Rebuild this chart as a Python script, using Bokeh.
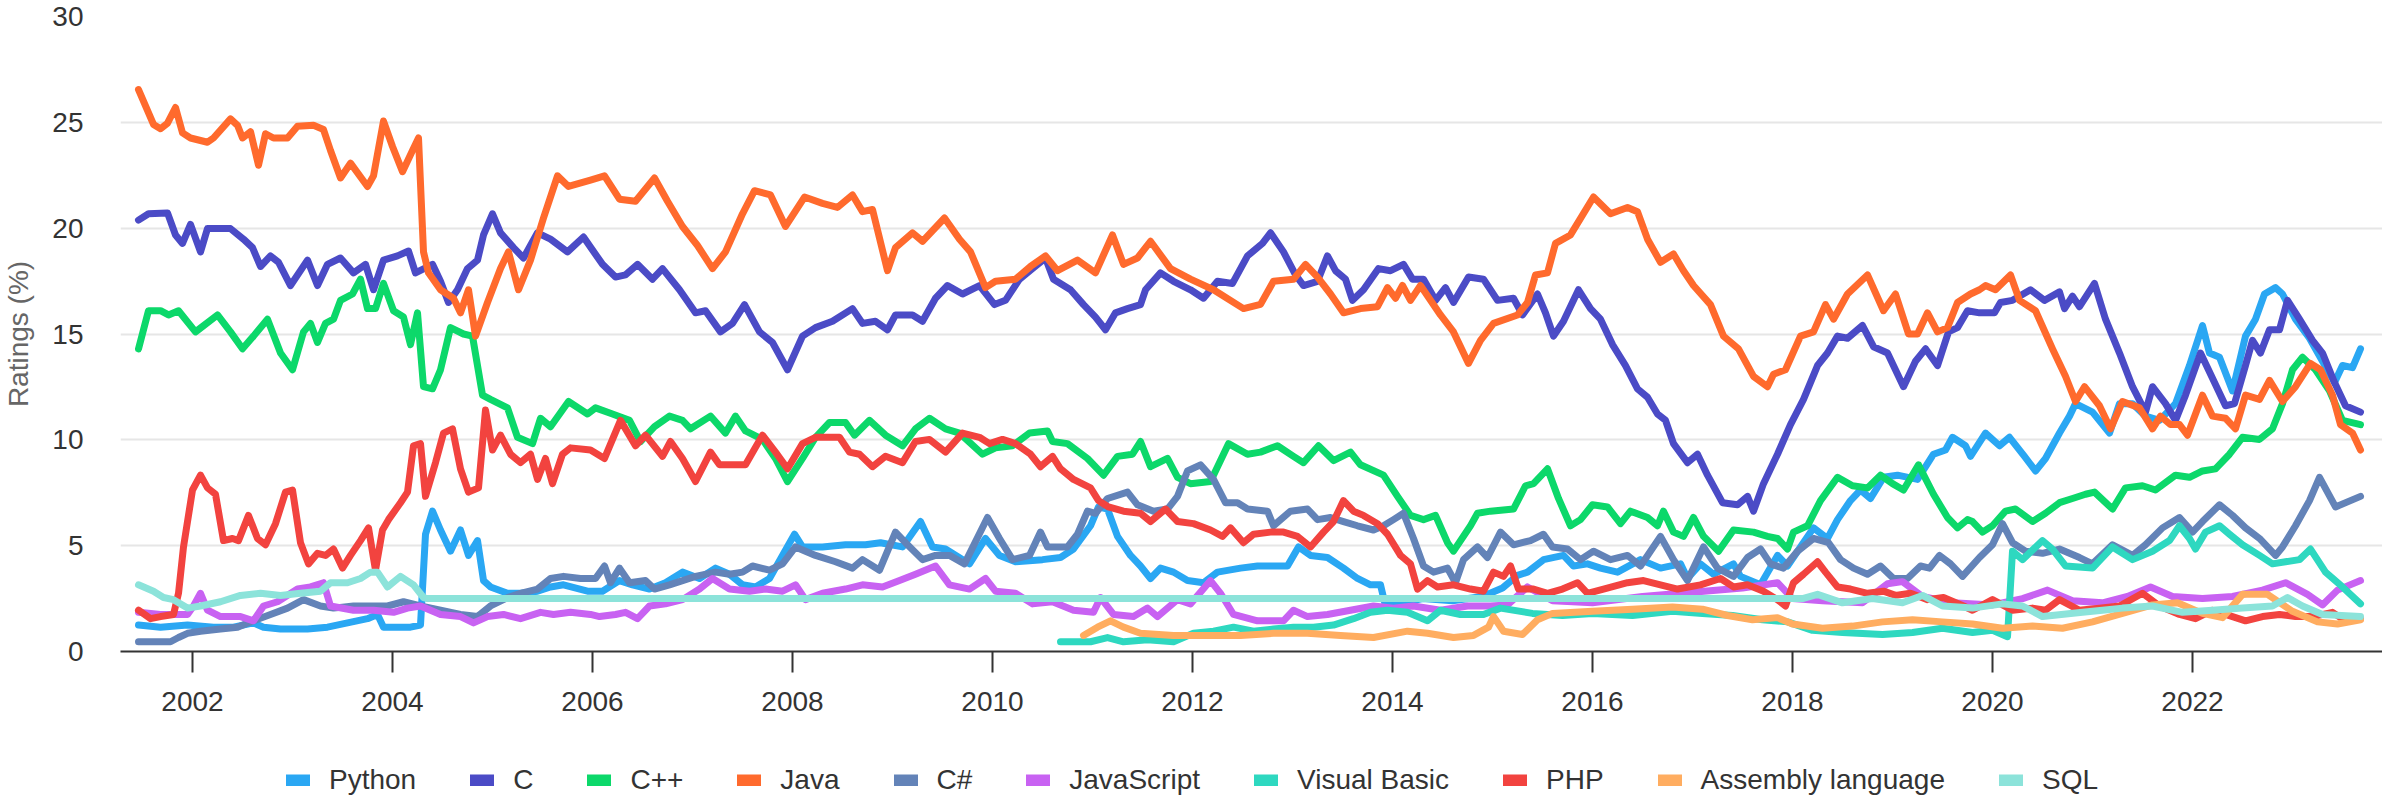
from bokeh.plotting import figure
from bokeh.models import Range1d, FixedTicker, Legend, LegendItem
from bokeh.layouts import column
from bokeh.embed import file_html
from bokeh.resources import INLINE

# ---------------- data (decimal year, rating %) ----------------
X_TICKS = [2002, 2004, 2006, 2008, 2010, 2012, 2014, 2016, 2018, 2020, 2022]
Y_TICKS = [0, 5, 10, 15, 20, 25, 30]

PY_T = [2001.46, 2001.68, 2001.95, 2002.21, 2002.41, 2002.61, 2002.71, 2002.88, 2003.15, 2003.35, 2003.55, 2003.75, 2003.85, 2003.91, 2004.05, 2004.18, 2004.28, 2004.33, 2004.40, 2004.48, 2004.58, 2004.68, 2004.76, 2004.85, 2004.91, 2004.98, 2005.15, 2005.28, 2005.45, 2005.58, 2005.71, 2005.95, 2006.10, 2006.27, 2006.40, 2006.57, 2006.73, 2006.90, 2007.07, 2007.23, 2007.37, 2007.50, 2007.63, 2007.77, 2007.90, 2008.02, 2008.10, 2008.30, 2008.53, 2008.73, 2008.88, 2009.10, 2009.28, 2009.40, 2009.53, 2009.77, 2009.93, 2010.07, 2010.23, 2010.50, 2010.68, 2010.81, 2010.98, 2011.06, 2011.15, 2011.25, 2011.38, 2011.48, 2011.58, 2011.68, 2011.81, 2011.95, 2012.11, 2012.25, 2012.48, 2012.65, 2012.81, 2012.95, 2013.06, 2013.18, 2013.35, 2013.51, 2013.65, 2013.78, 2013.88, 2013.93, 2014.10, 2014.30, 2014.60, 2014.90, 2015.10, 2015.25, 2015.35, 2015.51, 2015.71, 2015.81, 2015.95, 2016.08, 2016.25, 2016.48, 2016.68, 2016.88, 2016.95, 2017.08, 2017.21, 2017.41, 2017.48, 2017.68, 2017.85, 2017.95, 2018.08, 2018.21, 2018.35, 2018.45, 2018.58, 2018.68, 2018.78, 2018.91, 2019.05, 2019.25, 2019.41, 2019.53, 2019.60, 2019.73, 2019.78, 2019.93, 2020.07, 2020.17, 2020.32, 2020.43, 2020.53, 2020.67, 2020.77, 2020.83, 2021.00, 2021.17, 2021.27, 2021.40, 2021.53, 2021.67, 2021.83, 2021.97, 2022.10, 2022.17, 2022.27, 2022.40, 2022.53, 2022.63, 2022.72, 2022.83, 2022.90, 2023.03, 2023.17, 2023.30, 2023.42, 2023.50, 2023.60, 2023.68]
PY_V = [1.25, 1.15, 1.25, 1.15, 1.15, 1.35, 1.15, 1.06, 1.06, 1.15, 1.35, 1.55, 1.75, 1.15, 1.15, 1.15, 1.25, 5.54, 6.63, 5.74, 4.74, 5.74, 4.54, 5.24, 3.35, 3.05, 2.75, 2.75, 2.85, 3.05, 3.15, 2.85, 2.85, 3.35, 3.15, 2.95, 3.25, 3.75, 3.45, 3.94, 3.65, 3.15, 3.05, 3.45, 4.54, 5.54, 4.94, 4.94, 5.04, 5.04, 5.14, 4.94, 6.14, 4.94, 4.84, 4.14, 5.34, 4.54, 4.24, 4.34, 4.44, 4.84, 5.94, 6.83, 6.73, 5.44, 4.54, 4.04, 3.45, 3.94, 3.75, 3.35, 3.25, 3.75, 3.94, 4.04, 4.04, 4.04, 4.94, 4.54, 4.44, 3.94, 3.45, 3.15, 3.15, 2.15, 2.30, 2.50, 2.40, 2.60, 3.00, 3.60, 3.75, 4.34, 4.54, 4.04, 4.14, 3.94, 3.75, 4.34, 3.94, 4.14, 3.45, 4.14, 3.65, 4.14, 3.55, 3.15, 4.54, 4.04, 4.94, 5.84, 5.34, 6.23, 7.13, 7.63, 7.23, 8.23, 8.33, 8.13, 9.32, 9.52, 10.12, 9.72, 9.22, 10.32, 9.72, 10.12, 9.22, 8.53, 9.12, 10.32, 11.12, 11.71, 11.31, 10.32, 11.71, 11.71, 11.12, 10.92, 11.71, 13.51, 15.40, 14.10, 13.90, 12.31, 14.90, 15.70, 16.89, 17.19, 16.89, 15.70, 14.80, 13.71, 12.71, 13.51, 13.41, 14.30]

C_T = [2001.46, 2001.56, 2001.75, 2001.83, 2001.90, 2001.98, 2002.08, 2002.15, 2002.38, 2002.51, 2002.60, 2002.68, 2002.78, 2002.86, 2002.98, 2003.15, 2003.25, 2003.35, 2003.48, 2003.61, 2003.73, 2003.81, 2003.91, 2004.05, 2004.16, 2004.23, 2004.40, 2004.48, 2004.56, 2004.65, 2004.75, 2004.85, 2004.91, 2005.00, 2005.08, 2005.21, 2005.31, 2005.45, 2005.58, 2005.75, 2005.91, 2006.10, 2006.23, 2006.33, 2006.45, 2006.60, 2006.70, 2006.87, 2007.03, 2007.13, 2007.28, 2007.40, 2007.52, 2007.67, 2007.80, 2007.95, 2008.10, 2008.23, 2008.40, 2008.60, 2008.70, 2008.83, 2008.95, 2009.03, 2009.20, 2009.30, 2009.43, 2009.55, 2009.70, 2009.87, 2010.02, 2010.13, 2010.27, 2010.40, 2010.53, 2010.61, 2010.78, 2010.91, 2011.03, 2011.13, 2011.23, 2011.35, 2011.48, 2011.53, 2011.68, 2011.81, 2011.98, 2012.11, 2012.25, 2012.40, 2012.55, 2012.70, 2012.78, 2012.91, 2013.03, 2013.11, 2013.25, 2013.35, 2013.43, 2013.53, 2013.60, 2013.71, 2013.86, 2013.98, 2014.11, 2014.20, 2014.31, 2014.43, 2014.53, 2014.61, 2014.76, 2014.91, 2015.05, 2015.21, 2015.30, 2015.45, 2015.53, 2015.61, 2015.71, 2015.86, 2015.98, 2016.08, 2016.20, 2016.33, 2016.45, 2016.55, 2016.65, 2016.73, 2016.81, 2016.95, 2017.05, 2017.15, 2017.30, 2017.45, 2017.55, 2017.61, 2017.71, 2017.85, 2017.98, 2018.11, 2018.25, 2018.35, 2018.45, 2018.55, 2018.70, 2018.81, 2018.95, 2019.11, 2019.23, 2019.33, 2019.45, 2019.56, 2019.65, 2019.75, 2019.87, 2020.02, 2020.08, 2020.20, 2020.38, 2020.52, 2020.67, 2020.72, 2020.80, 2020.87, 2021.02, 2021.13, 2021.27, 2021.40, 2021.53, 2021.60, 2021.73, 2021.83, 2021.93, 2022.08, 2022.20, 2022.33, 2022.42, 2022.53, 2022.60, 2022.68, 2022.77, 2022.87, 2022.95, 2023.07, 2023.20, 2023.30, 2023.42, 2023.53, 2023.68]
C_V = [20.38, 20.68, 20.72, 19.68, 19.28, 20.18, 18.88, 19.98, 19.98, 19.48, 19.08, 18.19, 18.69, 18.39, 17.29, 18.49, 17.29, 18.29, 18.59, 17.89, 18.29, 17.09, 18.49, 18.69, 18.92, 17.89, 18.29, 17.49, 16.49, 17.09, 18.09, 18.49, 19.68, 20.68, 19.78, 19.08, 18.59, 19.78, 19.48, 18.88, 19.58, 18.29, 17.69, 17.79, 18.29, 17.59, 18.09, 17.09, 16.00, 16.10, 15.10, 15.50, 16.39, 15.10, 14.60, 13.31, 14.90, 15.30, 15.60, 16.20, 15.50, 15.60, 15.20, 15.90, 15.90, 15.60, 16.69, 17.29, 16.89, 17.29, 16.39, 16.59, 17.59, 18.09, 18.59, 17.59, 17.09, 16.39, 15.80, 15.20, 16.00, 16.20, 16.39, 17.09, 17.89, 17.49, 17.09, 16.69, 17.49, 17.39, 18.69, 19.28, 19.78, 18.88, 17.79, 17.29, 17.49, 18.69, 17.99, 17.59, 16.59, 17.09, 18.09, 17.99, 18.29, 17.59, 17.59, 16.59, 17.19, 16.49, 17.69, 17.59, 16.59, 16.69, 15.90, 16.89, 16.00, 14.90, 15.60, 17.09, 16.20, 15.70, 14.50, 13.51, 12.41, 12.01, 11.22, 10.92, 9.82, 8.92, 9.32, 8.33, 7.03, 6.93, 7.33, 6.63, 7.93, 9.32, 10.72, 11.91, 13.51, 14.10, 14.90, 14.80, 15.40, 14.40, 14.10, 12.51, 13.71, 14.30, 13.51, 15.10, 15.30, 16.10, 16.00, 16.00, 16.49, 16.59, 17.09, 16.59, 16.99, 16.20, 16.79, 16.29, 17.39, 15.70, 14.10, 12.51, 11.31, 12.51, 11.71, 10.92, 12.11, 14.10, 12.91, 11.61, 11.71, 13.51, 14.70, 14.10, 15.20, 15.20, 16.59, 15.70, 14.70, 14.10, 12.71, 11.61, 11.31]

CPP_T = [2001.46, 2001.56, 2001.68, 2001.76, 2001.86, 2002.03, 2002.25, 2002.38, 2002.50, 2002.61, 2002.75, 2002.88, 2003.00, 2003.11, 2003.18, 2003.25, 2003.33, 2003.41, 2003.48, 2003.60, 2003.68, 2003.75, 2003.83, 2003.91, 2004.01, 2004.11, 2004.18, 2004.25, 2004.31, 2004.40, 2004.48, 2004.58, 2004.71, 2004.80, 2004.90, 2004.98, 2005.15, 2005.25, 2005.40, 2005.48, 2005.58, 2005.76, 2005.95, 2006.03, 2006.20, 2006.37, 2006.48, 2006.62, 2006.77, 2006.90, 2006.98, 2007.18, 2007.33, 2007.43, 2007.53, 2007.70, 2007.83, 2007.95, 2008.10, 2008.23, 2008.37, 2008.53, 2008.62, 2008.77, 2008.93, 2009.10, 2009.23, 2009.37, 2009.53, 2009.67, 2009.90, 2010.03, 2010.20, 2010.37, 2010.55, 2010.60, 2010.75, 2010.95, 2011.11, 2011.25, 2011.40, 2011.48, 2011.58, 2011.75, 2011.85, 2011.98, 2012.18, 2012.36, 2012.55, 2012.68, 2012.85, 2013.01, 2013.11, 2013.26, 2013.41, 2013.58, 2013.68, 2013.91, 2014.05, 2014.18, 2014.31, 2014.43, 2014.55, 2014.61, 2014.78, 2014.85, 2014.98, 2015.21, 2015.33, 2015.41, 2015.55, 2015.66, 2015.78, 2015.88, 2016.00, 2016.15, 2016.28, 2016.38, 2016.55, 2016.65, 2016.71, 2016.81, 2016.91, 2017.01, 2017.11, 2017.26, 2017.41, 2017.61, 2017.75, 2017.85, 2017.95, 2018.01, 2018.15, 2018.28, 2018.45, 2018.60, 2018.75, 2018.88, 2019.00, 2019.11, 2019.26, 2019.41, 2019.55, 2019.65, 2019.75, 2019.80, 2019.90, 2020.00, 2020.13, 2020.23, 2020.40, 2020.53, 2020.67, 2020.80, 2020.93, 2021.02, 2021.20, 2021.33, 2021.50, 2021.63, 2021.83, 2021.97, 2022.10, 2022.23, 2022.37, 2022.50, 2022.67, 2022.80, 2022.90, 2023.00, 2023.10, 2023.23, 2023.37, 2023.50, 2023.68]
CPP_V = [14.30, 16.10, 16.10, 15.90, 16.10, 15.10, 15.90, 15.10, 14.30, 14.90, 15.70, 14.10, 13.31, 15.10, 15.50, 14.60, 15.50, 15.70, 16.59, 16.89, 17.59, 16.20, 16.20, 17.39, 16.10, 15.80, 14.50, 16.00, 12.51, 12.41, 13.31, 15.30, 15.00, 14.90, 12.11, 11.91, 11.51, 10.12, 9.82, 11.02, 10.62, 11.81, 11.22, 11.51, 11.22, 10.92, 9.92, 10.62, 11.12, 10.92, 10.52, 11.12, 10.32, 11.12, 10.42, 10.02, 9.12, 8.03, 9.12, 10.12, 10.82, 10.82, 10.22, 10.92, 10.22, 9.72, 10.52, 11.02, 10.52, 10.32, 9.32, 9.62, 9.72, 10.32, 10.42, 9.92, 9.82, 9.12, 8.33, 9.22, 9.32, 9.92, 8.73, 9.12, 8.23, 7.93, 8.03, 9.82, 9.32, 9.42, 9.72, 9.22, 8.92, 9.72, 9.02, 9.42, 8.82, 8.33, 7.33, 6.43, 6.23, 6.43, 5.14, 4.74, 5.94, 6.53, 6.63, 6.73, 7.83, 7.93, 8.63, 7.23, 5.94, 6.23, 6.93, 6.83, 6.04, 6.63, 6.33, 5.94, 6.63, 5.64, 5.44, 6.33, 5.44, 4.74, 5.74, 5.64, 5.44, 5.34, 4.84, 5.64, 5.94, 7.13, 8.23, 7.83, 7.73, 8.33, 7.93, 7.63, 8.82, 7.43, 6.33, 5.84, 6.23, 6.14, 5.64, 5.94, 6.63, 6.73, 6.14, 6.53, 7.03, 7.23, 7.43, 7.53, 6.73, 7.73, 7.83, 7.63, 8.33, 8.23, 8.53, 8.63, 9.32, 10.12, 10.02, 10.52, 11.71, 13.31, 13.90, 13.31, 12.31, 10.92, 10.72]

JAVA_T = [2001.46, 2001.61, 2001.68, 2001.75, 2001.83, 2001.90, 2001.98, 2002.15, 2002.21, 2002.38, 2002.45, 2002.50, 2002.58, 2002.66, 2002.73, 2002.81, 2002.95, 2003.05, 2003.21, 2003.31, 2003.38, 2003.48, 2003.58, 2003.75, 2003.81, 2003.91, 2004.00, 2004.10, 2004.20, 2004.26, 2004.31, 2004.36, 2004.48, 2004.61, 2004.68, 2004.76, 2004.83, 2004.95, 2005.08, 2005.16, 2005.26, 2005.38, 2005.51, 2005.65, 2005.76, 2005.98, 2006.12, 2006.27, 2006.43, 2006.62, 2006.75, 2006.90, 2007.05, 2007.20, 2007.33, 2007.50, 2007.62, 2007.78, 2007.93, 2008.12, 2008.30, 2008.45, 2008.60, 2008.70, 2008.80, 2008.95, 2009.03, 2009.20, 2009.30, 2009.52, 2009.67, 2009.78, 2009.93, 2010.03, 2010.23, 2010.38, 2010.53, 2010.65, 2010.85, 2011.03, 2011.20, 2011.31, 2011.45, 2011.58, 2011.78, 2011.98, 2012.21, 2012.51, 2012.68, 2012.81, 2013.01, 2013.13, 2013.25, 2013.38, 2013.51, 2013.68, 2013.85, 2013.95, 2014.03, 2014.10, 2014.18, 2014.28, 2014.48, 2014.61, 2014.76, 2014.88, 2015.01, 2015.25, 2015.35, 2015.43, 2015.55, 2015.63, 2015.78, 2016.01, 2016.18, 2016.35, 2016.45, 2016.55, 2016.68, 2016.81, 2016.91, 2017.01, 2017.18, 2017.31, 2017.46, 2017.61, 2017.75, 2017.81, 2017.93, 2018.08, 2018.21, 2018.33, 2018.41, 2018.55, 2018.75, 2018.91, 2019.03, 2019.16, 2019.25, 2019.35, 2019.45, 2019.55, 2019.65, 2019.78, 2019.87, 2019.93, 2020.03, 2020.18, 2020.27, 2020.43, 2020.60, 2020.73, 2020.83, 2020.92, 2021.07, 2021.18, 2021.30, 2021.47, 2021.60, 2021.68, 2021.78, 2021.87, 2021.95, 2022.10, 2022.20, 2022.33, 2022.43, 2022.53, 2022.67, 2022.77, 2022.90, 2023.03, 2023.18, 2023.28, 2023.40, 2023.48, 2023.60, 2023.68]
JAVA_V = [26.55, 24.90, 24.70, 24.96, 25.70, 24.50, 24.26, 24.06, 24.26, 25.16, 24.86, 24.26, 24.56, 22.97, 24.46, 24.26, 24.26, 24.82, 24.86, 24.66, 23.67, 22.37, 23.07, 21.97, 22.47, 25.06, 23.86, 22.67, 23.67, 24.26, 18.88, 17.89, 17.09, 16.69, 16.00, 17.09, 14.90, 16.49, 18.09, 18.88, 17.09, 18.49, 20.48, 22.47, 21.97, 22.27, 22.47, 21.37, 21.27, 22.37, 21.27, 20.08, 19.18, 18.09, 18.88, 20.68, 21.77, 21.57, 20.08, 21.47, 21.17, 20.98, 21.57, 20.78, 20.88, 17.99, 19.08, 19.78, 19.38, 20.48, 19.48, 18.88, 17.19, 17.49, 17.59, 18.19, 18.69, 17.99, 18.49, 17.89, 19.68, 18.29, 18.59, 19.38, 18.09, 17.59, 17.09, 16.20, 16.40, 17.49, 17.59, 18.29, 17.69, 16.89, 16.00, 16.20, 16.29, 17.19, 16.69, 17.29, 16.59, 17.29, 15.90, 15.10, 13.61, 14.70, 15.50, 15.90, 16.49, 17.79, 17.89, 19.28, 19.68, 21.47, 20.68, 20.98, 20.78, 19.48, 18.39, 18.78, 17.99, 17.29, 16.39, 14.90, 14.30, 13.00, 12.51, 13.10, 13.31, 14.90, 15.10, 16.39, 15.70, 16.89, 17.79, 16.10, 16.89, 15.00, 15.00, 16.00, 15.10, 15.30, 16.49, 16.89, 17.09, 17.29, 17.09, 17.79, 16.59, 16.10, 14.30, 13.00, 11.81, 12.51, 11.61, 10.52, 11.81, 11.51, 10.52, 11.12, 10.72, 10.72, 10.22, 12.11, 11.12, 11.02, 10.52, 12.11, 11.91, 12.81, 11.81, 12.51, 13.61, 13.31, 12.11, 10.72, 10.32, 9.52]

CS_T = [2001.46, 2001.78, 2001.86, 2001.95, 2002.08, 2002.28, 2002.45, 2002.61, 2002.78, 2002.95, 2003.11, 2003.28, 2003.41, 2003.61, 2003.81, 2003.95, 2004.11, 2004.28, 2004.48, 2004.68, 2004.85, 2004.98, 2005.15, 2005.28, 2005.45, 2005.58, 2005.71, 2005.88, 2006.03, 2006.12, 2006.18, 2006.27, 2006.37, 2006.53, 2006.62, 2006.77, 2006.90, 2007.03, 2007.23, 2007.37, 2007.50, 2007.60, 2007.77, 2007.90, 2008.03, 2008.23, 2008.43, 2008.60, 2008.70, 2008.87, 2009.03, 2009.13, 2009.30, 2009.43, 2009.57, 2009.72, 2009.95, 2010.07, 2010.20, 2010.37, 2010.48, 2010.55, 2010.75, 2010.85, 2010.95, 2011.03, 2011.15, 2011.35, 2011.45, 2011.61, 2011.75, 2011.85, 2011.95, 2012.08, 2012.21, 2012.33, 2012.45, 2012.55, 2012.75, 2012.81, 2012.98, 2013.15, 2013.25, 2013.38, 2013.51, 2013.65, 2013.81, 2013.91, 2014.01, 2014.11, 2014.21, 2014.31, 2014.41, 2014.55, 2014.63, 2014.71, 2014.85, 2014.95, 2015.08, 2015.21, 2015.38, 2015.51, 2015.60, 2015.75, 2015.88, 2016.01, 2016.18, 2016.35, 2016.48, 2016.68, 2016.81, 2016.95, 2017.11, 2017.25, 2017.41, 2017.55, 2017.68, 2017.78, 2017.91, 2018.05, 2018.21, 2018.36, 2018.48, 2018.61, 2018.75, 2018.88, 2019.01, 2019.15, 2019.28, 2019.37, 2019.47, 2019.58, 2019.70, 2019.87, 2020.00, 2020.10, 2020.20, 2020.33, 2020.50, 2020.67, 2020.87, 2021.00, 2021.20, 2021.40, 2021.53, 2021.70, 2021.87, 2022.00, 2022.10, 2022.27, 2022.40, 2022.53, 2022.67, 2022.83, 2022.90, 2023.03, 2023.17, 2023.27, 2023.43, 2023.68]
CS_V = [0.46, 0.46, 0.66, 0.86, 0.96, 1.06, 1.15, 1.45, 1.75, 2.05, 2.45, 2.15, 2.05, 2.15, 2.15, 2.15, 2.35, 2.15, 1.95, 1.75, 1.65, 2.15, 2.55, 2.75, 2.95, 3.45, 3.55, 3.45, 3.45, 4.04, 3.25, 3.94, 3.25, 3.35, 2.95, 3.15, 3.35, 3.55, 3.75, 3.65, 3.75, 4.04, 3.84, 4.14, 4.94, 4.54, 4.24, 3.94, 4.34, 3.84, 5.64, 5.14, 4.34, 4.54, 4.54, 4.14, 6.33, 5.34, 4.34, 4.54, 5.64, 4.94, 4.94, 5.54, 6.63, 6.53, 7.23, 7.53, 6.93, 6.63, 6.73, 7.33, 8.53, 8.82, 8.13, 7.03, 7.03, 6.73, 6.63, 5.94, 6.63, 6.73, 6.23, 6.33, 6.14, 5.94, 5.74, 5.94, 6.23, 6.53, 5.34, 4.04, 3.75, 3.94, 3.25, 4.34, 4.94, 4.44, 5.64, 5.04, 5.24, 5.54, 4.94, 4.84, 4.34, 4.74, 4.34, 4.54, 4.04, 5.44, 4.34, 3.35, 4.94, 3.94, 3.55, 4.44, 4.84, 4.14, 3.94, 4.74, 5.34, 5.14, 4.34, 3.94, 3.65, 4.04, 3.45, 3.45, 4.04, 3.94, 4.54, 4.14, 3.55, 4.44, 5.04, 6.04, 5.14, 4.74, 4.64, 4.84, 4.44, 4.14, 5.04, 4.54, 5.04, 5.84, 6.33, 5.64, 6.14, 6.93, 6.43, 5.84, 5.34, 4.54, 4.94, 5.94, 7.13, 8.23, 6.83, 7.33]

JS_T = [2001.46, 2001.68, 2001.95, 2002.01, 2002.08, 2002.15, 2002.28, 2002.48, 2002.61, 2002.71, 2002.85, 2003.05, 2003.18, 2003.31, 2003.38, 2003.61, 2003.81, 2004.01, 2004.15, 2004.28, 2004.48, 2004.68, 2004.81, 2004.95, 2005.11, 2005.28, 2005.48, 2005.61, 2005.78, 2005.98, 2006.07, 2006.23, 2006.33, 2006.45, 2006.57, 2006.73, 2006.90, 2007.07, 2007.20, 2007.37, 2007.57, 2007.73, 2007.90, 2008.03, 2008.13, 2008.30, 2008.53, 2008.70, 2008.90, 2009.07, 2009.23, 2009.43, 2009.57, 2009.77, 2009.93, 2010.03, 2010.23, 2010.40, 2010.60, 2010.81, 2011.01, 2011.08, 2011.21, 2011.41, 2011.55, 2011.65, 2011.85, 2011.98, 2012.18, 2012.28, 2012.41, 2012.65, 2012.91, 2013.01, 2013.15, 2013.35, 2013.58, 2013.81, 2014.01, 2014.21, 2014.48, 2014.75, 2014.98, 2015.15, 2015.35, 2015.60, 2016.00, 2016.50, 2017.00, 2017.50, 2017.85, 2018.00, 2018.30, 2018.70, 2018.95, 2019.10, 2019.30, 2019.60, 2020.00, 2020.30, 2020.55, 2020.80, 2021.10, 2021.35, 2021.58, 2021.80, 2022.10, 2022.40, 2022.70, 2022.93, 2023.15, 2023.30, 2023.45, 2023.68]
JS_V = [1.85, 1.75, 1.75, 2.15, 2.75, 1.95, 1.65, 1.65, 1.45, 2.15, 2.35, 2.95, 3.05, 3.25, 2.15, 1.95, 1.95, 1.85, 2.05, 2.15, 1.75, 1.65, 1.35, 1.65, 1.75, 1.55, 1.85, 1.75, 1.85, 1.75, 1.65, 1.75, 1.85, 1.55, 2.15, 2.25, 2.45, 2.95, 3.45, 2.95, 2.85, 2.95, 2.85, 3.15, 2.45, 2.75, 2.95, 3.15, 3.05, 3.35, 3.65, 4.04, 3.15, 2.95, 3.45, 2.85, 2.75, 2.25, 2.35, 1.95, 1.85, 2.55, 1.75, 1.65, 2.05, 1.65, 2.45, 2.25, 3.35, 2.75, 1.75, 1.45, 1.45, 1.95, 1.65, 1.75, 1.95, 2.15, 2.05, 2.15, 1.95, 2.15, 2.15, 2.20, 3.05, 2.40, 2.30, 2.60, 2.80, 3.00, 3.25, 2.50, 2.40, 2.30, 3.20, 3.30, 2.60, 2.30, 2.20, 2.50, 2.90, 2.40, 2.30, 2.60, 3.05, 2.60, 2.50, 2.60, 2.90, 3.25, 2.70, 2.20, 2.90, 3.35]

VB_T = [2010.68, 2010.98, 2011.15, 2011.31, 2011.55, 2011.81, 2012.01, 2012.21, 2012.41, 2012.61, 2012.81, 2013.01, 2013.21, 2013.41, 2013.61, 2013.78, 2013.95, 2014.15, 2014.35, 2014.48, 2014.68, 2014.91, 2015.08, 2015.40, 2015.70, 2016.00, 2016.40, 2016.80, 2017.10, 2017.40, 2017.70, 2017.95, 2018.20, 2018.50, 2018.90, 2019.20, 2019.50, 2019.80, 2020.00, 2020.15, 2020.20, 2020.30, 2020.50, 2020.60, 2020.73, 2021.00, 2021.20, 2021.40, 2021.60, 2021.77, 2021.87, 2021.97, 2022.03, 2022.13, 2022.27, 2022.37, 2022.50, 2022.67, 2022.80, 2022.93, 2023.07, 2023.18, 2023.33, 2023.50, 2023.68]
VB_V = [0.46, 0.46, 0.66, 0.46, 0.56, 0.46, 0.86, 0.96, 1.15, 0.96, 1.06, 1.15, 1.15, 1.25, 1.55, 1.85, 1.95, 1.85, 1.45, 1.95, 1.75, 1.75, 2.05, 1.80, 1.70, 1.80, 1.70, 1.90, 1.80, 1.70, 1.50, 1.40, 1.00, 0.90, 0.80, 0.90, 1.10, 0.90, 1.00, 0.70, 4.74, 4.34, 5.24, 4.84, 4.04, 3.94, 4.94, 4.34, 4.74, 5.24, 5.94, 5.34, 4.84, 5.64, 5.94, 5.54, 5.04, 4.54, 4.14, 4.24, 4.34, 4.84, 3.75, 3.05, 2.25]

PHP_T = [2001.46, 2001.58, 2001.68, 2001.81, 2001.86, 2001.91, 2002.00, 2002.08, 2002.15, 2002.23, 2002.31, 2002.40, 2002.46, 2002.56, 2002.65, 2002.73, 2002.83, 2002.93, 2003.00, 2003.08, 2003.16, 2003.25, 2003.33, 2003.41, 2003.50, 2003.58, 2003.68, 2003.76, 2003.83, 2003.90, 2003.96, 2004.08, 2004.15, 2004.21, 2004.28, 2004.33, 2004.43, 2004.51, 2004.60, 2004.68, 2004.76, 2004.86, 2004.93, 2005.00, 2005.08, 2005.18, 2005.28, 2005.38, 2005.45, 2005.53, 2005.60, 2005.70, 2005.78, 2005.98, 2006.12, 2006.28, 2006.43, 2006.53, 2006.70, 2006.78, 2006.90, 2007.03, 2007.18, 2007.27, 2007.40, 2007.53, 2007.70, 2007.83, 2007.95, 2008.10, 2008.23, 2008.47, 2008.57, 2008.67, 2008.80, 2008.93, 2009.10, 2009.23, 2009.37, 2009.53, 2009.70, 2009.87, 2009.97, 2010.10, 2010.23, 2010.38, 2010.48, 2010.60, 2010.68, 2010.81, 2010.98, 2011.06, 2011.16, 2011.31, 2011.48, 2011.58, 2011.73, 2011.85, 2012.01, 2012.18, 2012.30, 2012.38, 2012.51, 2012.61, 2012.78, 2012.91, 2013.05, 2013.18, 2013.31, 2013.41, 2013.51, 2013.61, 2013.71, 2013.85, 2013.95, 2014.08, 2014.18, 2014.25, 2014.35, 2014.45, 2014.61, 2014.78, 2014.91, 2015.01, 2015.11, 2015.18, 2015.26, 2015.41, 2015.55, 2015.70, 2015.85, 2015.95, 2016.11, 2016.35, 2016.51, 2016.68, 2016.85, 2017.08, 2017.28, 2017.41, 2017.55, 2017.71, 2017.85, 2017.93, 2018.01, 2018.11, 2018.25, 2018.33, 2018.45, 2018.58, 2018.75, 2018.91, 2019.03, 2019.18, 2019.35, 2019.51, 2019.71, 2019.80, 2020.00, 2020.20, 2020.40, 2020.53, 2020.67, 2020.87, 2021.07, 2021.27, 2021.50, 2021.67, 2021.87, 2022.03, 2022.20, 2022.40, 2022.53, 2022.70, 2022.87, 2023.03, 2023.20, 2023.40, 2023.53, 2023.68]
PHP_V = [1.95, 1.55, 1.65, 1.75, 2.75, 4.94, 7.63, 8.33, 7.73, 7.43, 5.24, 5.34, 5.24, 6.43, 5.34, 5.04, 6.04, 7.53, 7.63, 5.14, 4.14, 4.64, 4.54, 4.84, 3.94, 4.54, 5.24, 5.84, 3.84, 5.74, 6.23, 7.03, 7.53, 9.72, 9.82, 7.33, 8.92, 10.32, 10.52, 8.63, 7.53, 7.73, 11.41, 9.52, 10.22, 9.32, 8.92, 9.32, 8.13, 9.12, 7.93, 9.32, 9.62, 9.52, 9.12, 10.92, 9.72, 10.22, 9.22, 9.92, 9.12, 8.03, 9.42, 8.82, 8.82, 8.82, 10.22, 9.42, 8.63, 9.82, 10.12, 10.12, 9.42, 9.32, 8.73, 9.22, 8.92, 9.92, 10.02, 9.42, 10.32, 10.12, 9.82, 10.02, 9.82, 9.32, 8.73, 9.22, 8.63, 8.13, 7.73, 7.13, 6.83, 6.63, 6.53, 6.14, 6.73, 6.14, 6.04, 5.74, 5.44, 5.84, 5.14, 5.54, 5.64, 5.64, 5.44, 4.94, 5.64, 6.14, 7.13, 6.63, 6.43, 6.04, 5.54, 4.54, 4.14, 2.95, 3.35, 3.05, 3.15, 2.95, 2.85, 3.75, 3.55, 4.04, 2.95, 2.95, 2.75, 2.95, 3.25, 2.75, 2.95, 3.25, 3.35, 3.15, 2.95, 3.15, 3.45, 3.05, 3.15, 2.85, 2.45, 2.15, 3.25, 3.65, 4.24, 3.75, 3.05, 2.95, 2.75, 2.85, 2.65, 2.75, 2.45, 2.55, 2.15, 1.95, 2.45, 1.95, 2.05, 1.95, 2.45, 1.95, 2.05, 2.15, 2.75, 2.15, 1.75, 1.55, 1.95, 1.65, 1.45, 1.65, 1.75, 1.65, 1.65, 1.85, 1.45, 1.55]

ASM_T = [2010.91, 2011.05, 2011.18, 2011.31, 2011.48, 2011.81, 2012.15, 2012.48, 2012.81, 2013.15, 2013.48, 2013.81, 2014.15, 2014.35, 2014.61, 2014.81, 2014.96, 2015.01, 2015.11, 2015.30, 2015.45, 2015.60, 2016.00, 2016.40, 2016.80, 2017.10, 2017.35, 2017.60, 2017.85, 2018.00, 2018.30, 2018.60, 2018.90, 2019.20, 2019.50, 2019.80, 2020.10, 2020.40, 2020.70, 2021.00, 2021.30, 2021.60, 2021.85, 2022.10, 2022.30, 2022.50, 2022.75, 2023.00, 2023.25, 2023.45, 2023.68]
ASM_V = [0.76, 1.15, 1.45, 1.15, 0.86, 0.76, 0.76, 0.76, 0.86, 0.86, 0.76, 0.66, 0.96, 0.86, 0.66, 0.76, 1.15, 1.65, 0.96, 0.80, 1.50, 1.80, 1.90, 2.00, 2.10, 2.00, 1.70, 1.50, 1.60, 1.30, 1.10, 1.20, 1.40, 1.50, 1.40, 1.30, 1.10, 1.20, 1.10, 1.40, 1.80, 2.20, 2.30, 1.80, 1.60, 2.70, 2.70, 1.90, 1.40, 1.30, 1.50]

SQL_T = [2001.46, 2001.61, 2001.71, 2001.81, 2001.95, 2002.08, 2002.28, 2002.48, 2002.68, 2002.88, 2003.08, 2003.28, 2003.38, 2003.55, 2003.68, 2003.78, 2003.85, 2003.95, 2004.08, 2004.21, 2004.31, 2004.35, 2018.00, 2018.10, 2018.25, 2018.50, 2018.80, 2019.10, 2019.30, 2019.50, 2019.80, 2020.10, 2020.30, 2020.50, 2020.90, 2021.10, 2021.30, 2021.60, 2021.90, 2022.20, 2022.50, 2022.80, 2022.95, 2023.10, 2023.30, 2023.68]
SQL_V = [3.15, 2.85, 2.55, 2.45, 2.05, 2.15, 2.35, 2.65, 2.75, 2.65, 2.75, 2.85, 3.25, 3.25, 3.45, 3.75, 3.75, 3.05, 3.55, 3.15, 2.55, 2.50, 2.50, 2.50, 2.70, 2.30, 2.50, 2.30, 2.65, 2.15, 2.05, 2.25, 2.15, 1.65, 1.85, 1.95, 2.05, 2.15, 1.85, 1.95, 2.05, 2.15, 2.55, 2.15, 1.75, 1.65]

SERIES = [
    ("Python", PY_T, PY_V, "#2AA7F3"),
    ("C", C_T, C_V, "#4B4BC6"),
    ("C++", CPP_T, CPP_V, "#0CD86A"),
    ("Java", JAVA_T, JAVA_V, "#FF6A2D"),
    ("C#", CS_T, CS_V, "#6383B8"),
    ("JavaScript", JS_T, JS_V, "#C862F2"),
    ("Visual Basic", VB_T, VB_V, "#2ED8C0"),
    ("PHP", PHP_T, PHP_V, "#F2433F"),
    ("Assembly language", ASM_T, ASM_V, "#FFAD60"),
    ("SQL", SQL_T, SQL_V, "#8CE3DA"),
]

FONT = "Liberation Sans"
NAN = float("nan")

# ---------------- main chart ----------------
p = figure(width=2382, height=759, output_backend="svg", toolbar_location=None,
           x_range=Range1d(2001.28, 2023.90), y_range=Range1d(0, 30),
           min_border_left=120, min_border_right=0, min_border_top=16, min_border_bottom=108)
p.outline_line_color = None
p.background_fill_color = "white"
p.border_fill_color = "white"

p.xgrid.visible = False
p.ygrid.grid_line_color = "#e6e6e6"
p.ygrid.grid_line_width = 2

xa = p.xaxis[0]
xa.ticker = FixedTicker(ticks=X_TICKS)
xa.minor_tick_line_color = None
xa.axis_line_color = "#333333"
xa.axis_line_width = 2
xa.major_tick_line_color = "#333333"
xa.major_tick_line_width = 2
xa.major_tick_out = 21
xa.major_tick_in = 0
xa.major_label_standoff = 19
xa.major_label_text_font = FONT
xa.major_label_text_font_size = "28px"
xa.major_label_text_color = "#333333"

ya = p.yaxis[0]
ya.ticker = FixedTicker(ticks=Y_TICKS)
ya.minor_tick_line_color = None
ya.axis_line_color = None
ya.major_tick_line_color = None
ya.major_tick_out = 0
ya.major_tick_in = 0
ya.major_label_standoff = 37
ya.major_label_text_font = FONT
ya.major_label_text_font_size = "28px"
ya.major_label_text_color = "#333333"
ya.axis_label = "Ratings (%)"
ya.axis_label_text_font = FONT
ya.axis_label_text_font_size = "28px"
ya.axis_label_text_font_style = "normal"
ya.axis_label_text_color = "#666666"
ya.axis_label_standoff = 15

for name, t, v, col in SERIES:
    p.line(t, v, line_color=col, line_width=7, line_join="round", line_cap="round")

# ---------------- legend strip ----------------
lg = figure(width=2382, height=42, output_backend="svg", toolbar_location=None,
            x_range=Range1d(0, 1), y_range=Range1d(0, 1),
            x_axis_location=None, y_axis_location=None,
            min_border=0, min_border_left=0, min_border_right=0,
            min_border_top=0, min_border_bottom=0)
lg.outline_line_color = None
lg.grid.visible = False
lg.background_fill_color = "white"
lg.border_fill_color = "white"

items = []
for name, t, v, col in SERIES:
    proxy = lg.line([NAN, NAN], [NAN, NAN], line_color=col, line_width=12, line_cap="round")
    items.append(LegendItem(label=name, renderers=[proxy]))

legend = Legend(items=items, orientation="horizontal", location="left",
                glyph_width=24, glyph_height=12, label_standoff=19, spacing=54,
                padding=0, margin=166, border_line_color=None,
                background_fill_alpha=0,
                label_text_font=FONT, label_text_font_size="28px",
                label_text_color="#333333")
lg.add_layout(legend, "center")

page = column(p, lg, spacing=0)
open("out.html", "w").write(file_html(page, INLINE))
